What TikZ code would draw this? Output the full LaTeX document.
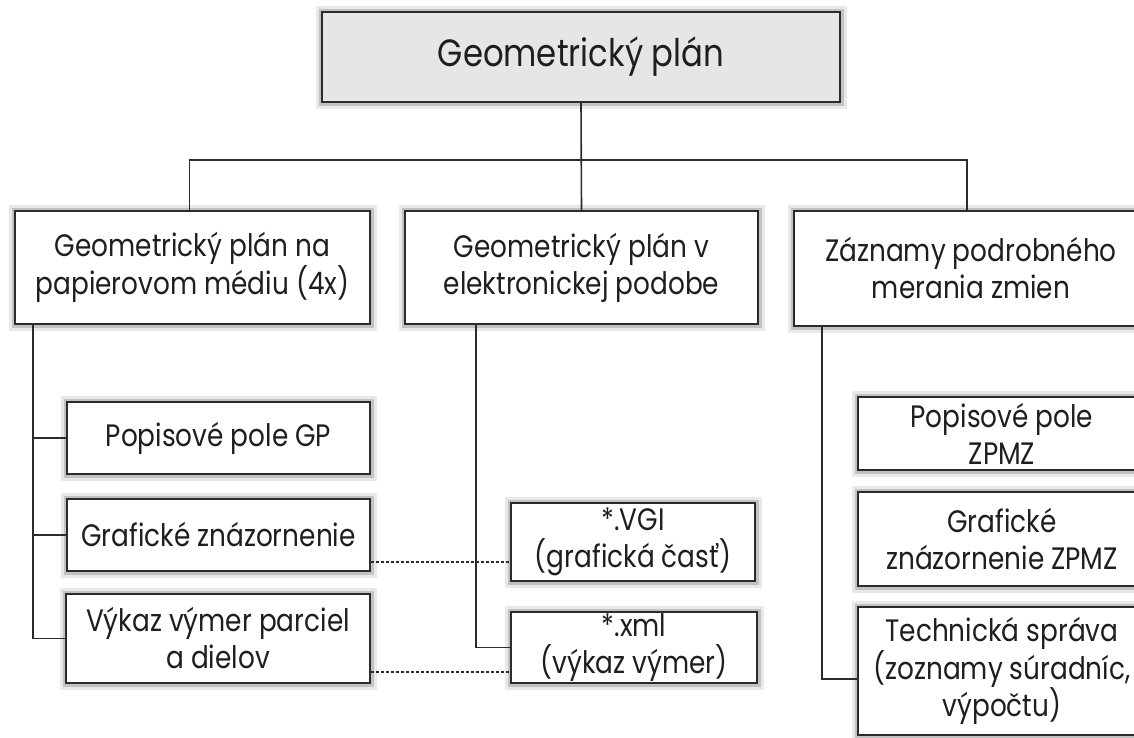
\documentclass[tikz,border=0pt]{standalone}
\usepackage{fontspec}
\setmainfont{Poppins}[FakeStretch=0.85]
\usetikzlibrary{calc}
\definecolor{edge}{HTML}{2B2B2B}
\definecolor{topfill}{HTML}{E6E6E6}
\definecolor{txt}{HTML}{1E1E1E}
\tikzset{
  box/.style={draw=edge, line width=2pt, fill=white, align=center, inner sep=0pt,
    text=txt, font=\fontsize{31}{37}\selectfont,
    preaction={draw=black!9, line width=13pt},
    preaction={draw=black!24, line width=7pt}},
  topbox/.style={box, fill=topfill, font=\fontsize{38}{44}\selectfont},
  conn/.style={draw=edge, line width=1.6pt},
  dashconn/.style={draw=edge, line width=1.2pt, dash pattern=on 3pt off 2pt}
}
\begin{document}
\begin{tikzpicture}[x=1pt, y=-1pt]
\useasboundingbox (0,0) rectangle (1134,737);
\clip (0,0) rectangle (1134,737);
\node[topbox, minimum width=518pt, minimum height=90pt] (top) at (581,57) {Geometrický plán};
\node[box, minimum width=355pt, minimum height=113pt] (L) at (192.5,267.5) {Geometrický plán na\\papierovom médiu (4x)};
\node[box, minimum width=353pt, minimum height=113pt] (M) at (581.5,267.5) {Geometrický plán v\\elektronickej podobe};
\node[box, minimum width=354pt, minimum height=115pt] (R) at (971,268.5) {Záznamy podrobného\\merania zmien};
\node[box, minimum width=303pt, minimum height=72pt] (L1) at (218.5,438) {Popisové pole GP};
\node[box, minimum width=303pt, minimum height=72pt] (L2) at (218.5,535) {Grafické znázornenie};
\node[box, minimum width=304pt, minimum height=89pt] (L3) at (218,638.5) {Výkaz výmer parciel\\a dielov};
\node[box, minimum width=244pt, minimum height=78pt] (M1) at (633,542) {*.VGI\\(grafická časť)};
\node[box, minimum width=246pt, minimum height=71pt] (M2) at (634,647.5) {*.xml\\(výkaz výmer)};
\node[box, minimum width=288pt, minimum height=73pt] (R1) at (1002,433.5) {Popisové pole\\ZPMZ};
\node[box, minimum width=288pt, minimum height=94pt] (R2) at (1002,539) {Grafické\\znázornenie ZPMZ};
\node[box, minimum width=288pt, minimum height=128pt] (R3) at (1002,671) {Technická správa\\(zoznamy súradníc,\\výpočtu)};
% top level connectors
\coordinate (hb) at (581,160);
\draw[conn] (top.south) -- (M.north);
\draw[conn] ($(L.north)+(-3,0)$) |- (hb) -| ($(R.north)+(-4,0)$);
% left branch
\coordinate (ls) at ($(L.south west)+(19,0)$);
\draw[conn] (ls) |- (L3.west);
\draw[conn] (L1.west) -- (L1.west -| ls);
\draw[conn] (L2.west) -- (L2.west -| ls);
% middle branch
\coordinate (ms) at ($(M.south west)+(72,0)$);
\draw[conn] (ms) |- (M2.west);
\draw[conn] ($(M1.west)+(0,2)$) -- ($(M1.west)+(0,2)$ -| ms);
% right branch
\coordinate (rs) at ($(R.south west)+(29,0)$);
\draw[conn] (rs) |- ($(R3.west)+(0,8)$);
\draw[conn] ($(R1.west)+(0,2.5)$) -- ($(R1.west)+(0,2.5)$ -| rs);
\draw[conn] ($(R2.west)+(0,3)$) -- ($(R2.west)+(0,3)$ -| rs);
% dashed links
\coordinate (d1) at ($(L2.east)+(0,27)$);
\coordinate (d2) at ($(L3.east)+(0,33.5)$);
\draw[dashconn] (d1) -- (d1 -| M1.west);
\draw[dashconn] (d2) -- (d2 -| M2.west);
\end{tikzpicture}
\end{document}
